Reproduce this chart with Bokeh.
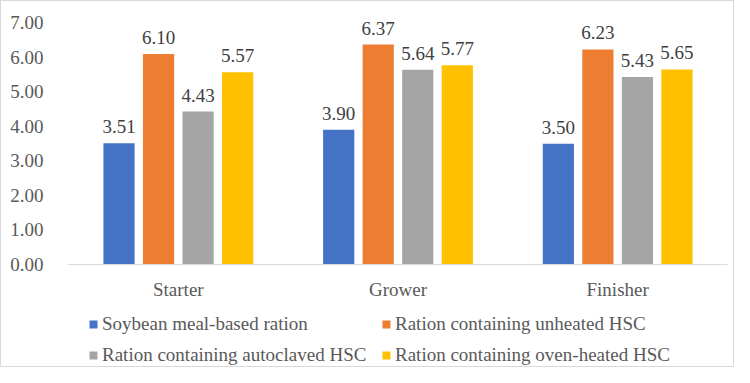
from bokeh.plotting import figure
from bokeh.models import ColumnDataSource, Legend, LegendItem, FactorRange, NumeralTickFormatter, FixedTicker
from bokeh.layouts import column
from bokeh.transform import dodge
from bokeh.core.properties import value
from bokeh.embed import file_html
from bokeh.resources import INLINE

phases = ["Starter", "Grower", "Finisher"]
series_names = ["Soybean meal-based ration", "Ration containing unheated HSC",
                "Ration containing autoclaved HSC", "Ration containing oven-heated HSC"]
soybean = [3.51, 3.90, 3.50]
unheated = [6.10, 6.37, 6.23]
autoclaved = [4.43, 5.64, 5.43]
oven = [5.57, 5.77, 5.65]
colors = ["#4472C4", "#ED7D31", "#A5A5A5", "#FFC000"]
offsets = [-0.27, -0.09, 0.09, 0.27]

FONT = "Liberation Serif"

src = ColumnDataSource(dict(
    phase=phases, s0=soybean, s1=unheated, s2=autoclaved, s3=oven,
    l0=[f"{v:.2f}" for v in soybean], l1=[f"{v:.2f}" for v in unheated],
    l2=[f"{v:.2f}" for v in autoclaved], l3=[f"{v:.2f}" for v in oven],
))

p = figure(x_range=FactorRange(*phases, range_padding=0), y_range=(0, 7.3),
           width=732, height=303, output_backend="svg", toolbar_location=None,
           min_border_left=67, min_border_right=6, min_border_top=11, min_border_bottom=40)
p.outline_line_color = None
p.xgrid.grid_line_color = None
p.ygrid.grid_line_color = None

for i in range(4):
    p.vbar(x=dodge("phase", offsets[i], range=p.x_range), top=f"s{i}", width=0.142,
           source=src, fill_color=colors[i], line_color=None)
    p.text(x=dodge("phase", offsets[i], range=p.x_range), y=f"s{i}", text=f"l{i}", source=src,
           text_align="center", text_baseline="bottom", y_offset=-10,
           text_font=value(FONT), text_font_size="19px", text_color="#404040")

p.yaxis.ticker = FixedTicker(ticks=[0, 1, 2, 3, 4, 5, 6, 7])
p.yaxis.formatter = NumeralTickFormatter(format="0.00")
p.yaxis.axis_line_color = None
p.yaxis.major_tick_line_color = None
p.yaxis.minor_tick_line_color = None
p.yaxis.major_label_standoff = 19
p.yaxis.major_label_text_font = FONT
p.yaxis.major_label_text_font_size = "19px"
p.yaxis.major_label_text_color = "#595959"

p.xaxis.axis_line_color = "#d9d9d9"
p.xaxis.axis_line_width = 1
p.xaxis.major_tick_line_color = None
p.xaxis.minor_tick_line_color = None
p.xaxis.major_label_standoff = 8
p.xaxis.major_label_text_font = FONT
p.xaxis.major_label_text_font_size = "19px"
p.xaxis.major_label_text_color = "#595959"

# legend panel (shares the chart's ranges; its bar renderers are hidden and only feed the legend)
lf = figure(width=732, height=62, output_backend="svg", toolbar_location=None,
            x_range=p.x_range, y_range=p.y_range, x_axis_type=None, y_axis_type=None,
            min_border_left=0, min_border_right=0, min_border_top=0, min_border_bottom=0)
lf.outline_line_color = None
lf.xgrid.grid_line_color = None
lf.ygrid.grid_line_color = None
leg_renderers = [lf.vbar(x="phase", top=f"s{i}", width=0.1, source=src, fill_color=colors[i],
                         line_color=None, visible=False) for i in range(4)]


def make_legend(idx, x):
    lg = Legend(items=[LegendItem(label=series_names[i], renderers=[leg_renderers[i]]) for i in idx],
                location=(x, 0), orientation="vertical",
                glyph_width=10, glyph_height=10, label_standoff=4, spacing=9,
                label_text_font=FONT, label_text_font_size="19px", label_text_color="#595959",
                border_line_color=None, background_fill_alpha=0,
                inactive_fill_alpha=0, click_policy="none",
                padding=0, margin=0, label_height=20)
    lf.add_layout(lg, "center")


make_legend([0, 2], 20)
make_legend([1, 3], 313)

layout = column(p, lf, spacing=0, styles={"border": "1px solid #d9d9d9"})
open("out.html", "w").write(file_html(layout, INLINE))
